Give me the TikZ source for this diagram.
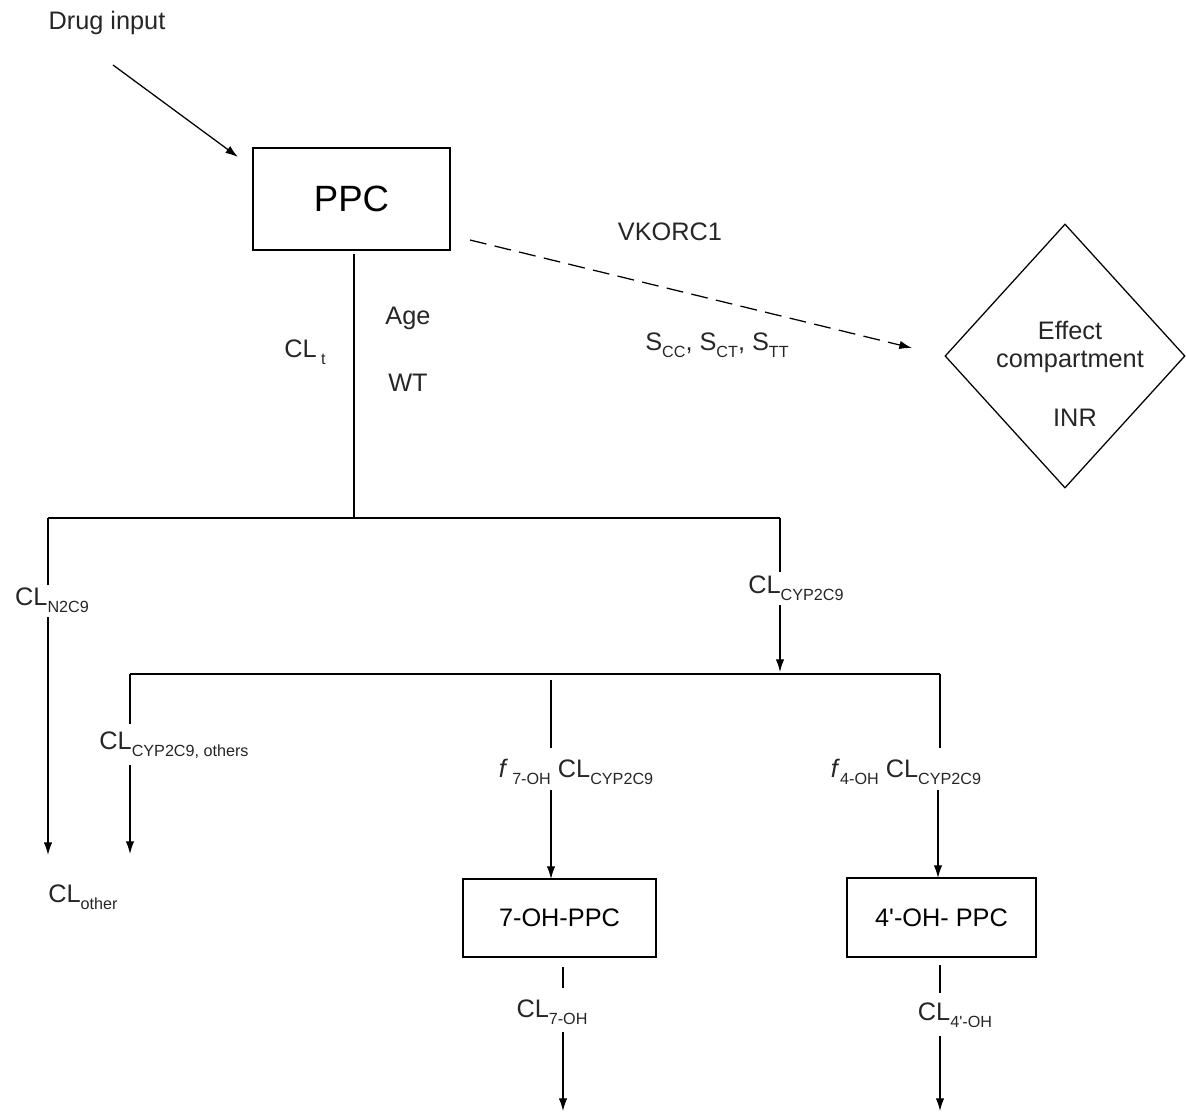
\documentclass[tikz,border=0pt]{standalone}
\usepackage{fontspec}
\setmainfont{Liberation Sans}
\usetikzlibrary{arrows.meta,shapes.geometric}
\newcommand{\lsub}[1]{\raisebox{-0.5ex}{\fontsize{11.5}{12}\selectfont #1}}
\newcommand{\sq}{\XeTeXglyph\XeTeXglyphindex "quotesingle"\relax}
\begin{document}
\begin{tikzpicture}[x=0.025cm,y=-0.025cm,
  lbl/.style={font=\fontsize{18}{20}\selectfont, inner sep=0pt, text=black!85},
  box/.style={draw, line width=0.9pt, inner sep=0pt},
  ln/.style={line width=0.9pt},
  arr/.style={ln, -{Latex[length=9pt,width=6pt]}},
  dasharr/.style={arr, dash pattern=on 12pt off 6pt},
]
\useasboundingbox (0,0) rectangle (1186,1113);

% boxes
\node[box, minimum width=4.925cm, minimum height=2.55cm, font=\fontsize{26}{28}\selectfont] (ppc) at (351.5,199) {PPC};
\node[box, minimum width=4.825cm, minimum height=1.95cm, font=\fontsize{18}{20}\selectfont] (oh7) at (559.5,918) {7-OH-PPC};
\node[box, minimum width=4.725cm, minimum height=1.975cm, font=\fontsize{18}{20}\selectfont] (oh4) at (941.5,917.5) {4\sq-OH- PPC};
\node[draw, diamond, ln, minimum width=6.0cm, minimum height=6.6cm, inner sep=0pt] (eff) at (1065,356) {};

% texts
\node[lbl] (drug) at (107,23) {Drug input};
\node[lbl] (effa) at (1070,330) {Effect};
\node[lbl] (effb) at (1070,362) {compartment};
\node[lbl] (inr) at (1075,418) {INR};
\node[lbl] (vk) at (670,232) {VKORC1};
\node[lbl] (scc) at (717,345) {S\lsub{CC}, S\lsub{CT}, S\lsub{TT}};
\node[lbl] (clt) at (305,352) {CL\,\lsub{t}};
\node[lbl] (age) at (408,318) {Age};
\node[lbl] (wt) at (408,383) {WT};
\node[lbl] (cln) at (52,600) {CL\lsub{N2C9}};
\node[lbl] (clc) at (796,588) {CL\lsub{CYP2C9}};
\node[lbl] (clco) at (174,745) {CL\lsub{CYP2C9, others}};
\node[lbl] (clother) at (83,897) {CL\lsub{other}};
\node[lbl] (f7) at (576,772) {\textit{f}\,\lsub{7-OH} CL\lsub{CYP2C9}};
\node[lbl] (f4) at (906,772) {\textit{f}\lsub{4-OH} CL\lsub{CYP2C9}};
\node[lbl] (cl7) at (552,1012) {CL\lsub{7-OH}};
\node[lbl] (cl4) at (955,1015) {CL\lsub{4\sq-OH}};

% coordinates
\coordinate (dA) at (113,65);
\coordinate (dB) at (238,157);
\coordinate (eA) at (470,240);
\coordinate (eB) at (912,348);
\coordinate (t0) at (354,254);
\coordinate (t1) at (354,518);
\coordinate (h1L) at (48,518);
\coordinate (h1R) at (780,518);
\coordinate (n1) at (48,585);
\coordinate (n2) at (48,617);
\coordinate (n3) at (48,855);
\coordinate (c1) at (780,572);
\coordinate (c2) at (780,605);
\coordinate (c3) at (780,672);
\coordinate (h2L) at (130,674);
\coordinate (h2R) at (940,674);
\coordinate (o1) at (130,724);
\coordinate (o2) at (130,765);
\coordinate (o3) at (130,854);
\coordinate (m0) at (551,680);
\coordinate (m1) at (551,748);
\coordinate (m2) at (551,790);
\coordinate (m3) at (551,879);
\coordinate (r1) at (940,748);
\coordinate (r2) at (938,790);
\coordinate (r3) at (938,878);
\coordinate (a0) at (563,967);
\coordinate (a1) at (563,988);
\coordinate (a2) at (563,1032);
\coordinate (a3) at (563,1111);
\coordinate (b0) at (940,965);
\coordinate (b1) at (940,993);
\coordinate (b2) at (940,1036);
\coordinate (b3) at (940,1111);

% connectors
\draw[arr] (dA) -- (dB);
\draw[dasharr] (eA) -- (eB);
\draw[ln] (t0) -- (t1);
\draw[ln] (h1L) -- (h1R);
\draw[ln] (h1L) -- (n1);
\draw[arr] (n2) -- (n3);
\draw[ln] (h1R) -- (c1);
\draw[arr] (c2) -- (c3);
\draw[ln] (h2L) -- (h2R);
\draw[ln] (h2L) -- (o1);
\draw[arr] (o2) -- (o3);
\draw[ln] (m0) -- (m1);
\draw[arr] (m2) -- (m3);
\draw[ln] (h2R) -- (r1);
\draw[arr] (r2) -- (r3);
\draw[ln] (a0) -- (a1);
\draw[arr] (a2) -- (a3);
\draw[ln] (b0) -- (b1);
\draw[arr] (b2) -- (b3);
\end{tikzpicture}
\end{document}
